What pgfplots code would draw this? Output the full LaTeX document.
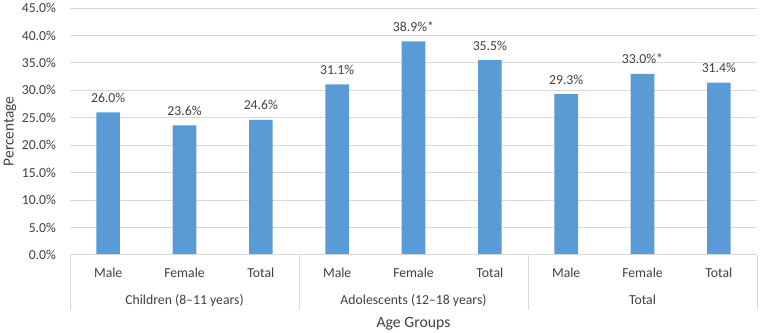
\documentclass[border=0pt]{standalone}
\usepackage{pgfplots}
\pgfplotsset{compat=1.18}
\usepackage{fontspec}
\setmainfont{Carlito}
\definecolor{barblue}{HTML}{5B9BD5}
\definecolor{gridgray}{HTML}{D9D9D9}
\definecolor{txtgray}{HTML}{404040}
\definecolor{lbl}{HTML}{404040}
\begin{document}
\begin{tikzpicture}
\useasboundingbox (0,0) rectangle (570pt,249pt);
\begin{axis}[
  at={(52.5pt,57.75pt)}, anchor=south west,
  scale only axis, width=515.25pt, height=185.25pt,
  xmin=-0.5, xmax=8.5, ymin=0, ymax=45,
  axis line style={draw=none},
  ytick={0,5,...,45},
  yticklabels={0.0\%,5.0\%,10.0\%,15.0\%,20.0\%,25.0\%,30.0\%,35.0\%,40.0\%,45.0\%},
  xtick={0,...,8},
  xticklabels={Male,Female,Total,Male,Female,Total,Male,Female,Total},
  major tick length=0pt,
  ymajorgrids, grid style={gridgray, line width=0.75pt},
  tick label style={text=txtgray, font=\fontsize{10.3}{12}\selectfont},
  yticklabel style={xshift=-7pt},
  xticklabel style={anchor=base, yshift=-16.9pt},
  clip=false,
  point meta=explicit symbolic,
  nodes near coords={\pgfplotspointmeta},
  every node near coord/.style={anchor=base, yshift=7.5pt, text=lbl, font=\fontsize{10.3}{12}\selectfont},
]
\addplot[ybar, bar width=0.31, fill=barblue, draw=none] coordinates {
  (0,26.0) [26.0\%]
  (1,23.6) [23.6\%]
  (2,24.6) [24.6\%]
  (3,31.1) [31.1\%]
  (4,38.9) [38.9\%*]
  (5,35.5) [35.5\%]
  (6,29.3) [29.3\%]
  (7,33.0) [33.0\%*]
  (8,31.4) [31.4\%]
};
\draw[gridgray, line width=0.75pt] (axis cs:-0.5,0) -- (axis cs:8.5,0);
\pgfplotsinvokeforeach{-0.5,2.5,5.5,8.5}{
  \draw[gridgray, line width=0.75pt] (axis cs:#1,0) -- ++(0pt,-41.25pt);
}
\node[anchor=base, yshift=-37.5pt, text=txtgray, font=\fontsize{10.3}{12}\selectfont] at (axis cs:1,0) {Children (8–11 years)};
\node[anchor=base, yshift=-37.5pt, text=txtgray, font=\fontsize{10.3}{12}\selectfont] at (axis cs:4,0) {Adolescents (12–18 years)};
\node[anchor=base, yshift=-37.5pt, text=txtgray, font=\fontsize{10.3}{12}\selectfont] at (axis cs:7,0) {Total};
\node[anchor=base, yshift=-54pt, text=txtgray, font=\fontsize{11.8}{14}\selectfont] at (axis cs:4,0) {Age Groups};
\end{axis}
\node[rotate=90, text=txtgray, font=\fontsize{11.5}{14}\selectfont] at (7.5pt,150.4pt) {Percentage};
\end{tikzpicture}
\end{document}
